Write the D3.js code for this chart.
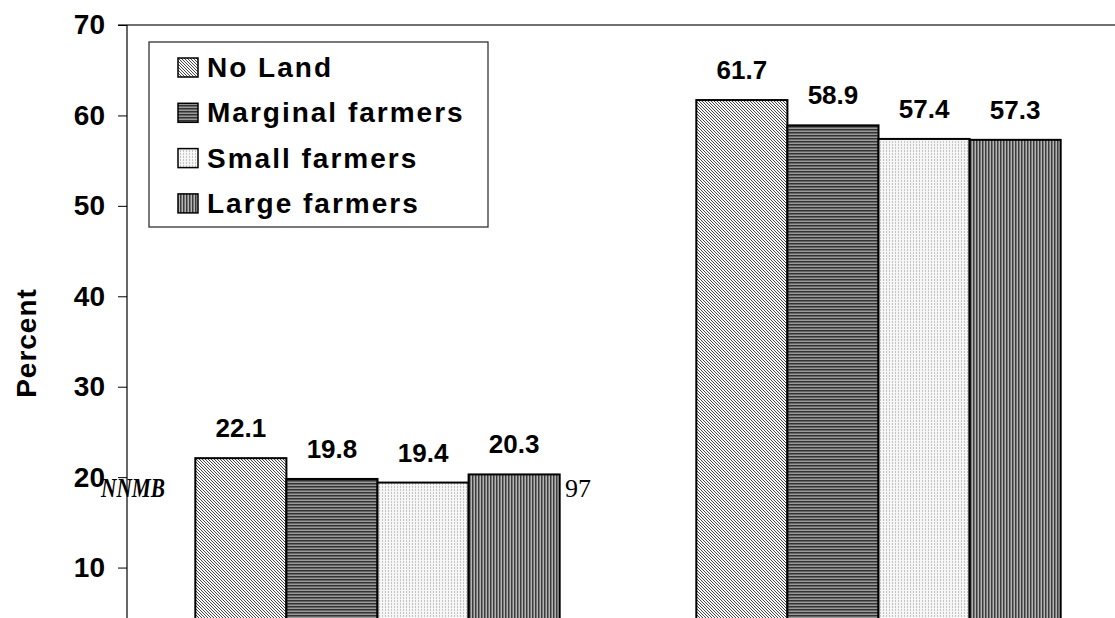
<!DOCTYPE html>
<html>
<head>
<meta charset="utf-8">
<script src="https://cdn.jsdelivr.net/npm/d3@7"></script>
<style>
  html, body { margin: 0; padding: 0; background: #fff; }
  svg { display: block; }
  text { font-family: "Liberation Sans", Arial, sans-serif; }
</style>
</head>
<body>
<div id="chart"></div>
<script>
// ---- data ----
const categories = ["Group 1", "Group 2"];
const seriesNames = ["No Land", "Marginal farmers", "Small farmers", "Large farmers"];
const noLand = [22.1, 61.7];
const marginal = [19.8, 58.9];
const small = [19.4, 57.4];
const large = [20.3, 57.3];
const yTicks = [10, 20, 30, 40, 50, 60, 70];
const yTitle = "Percent";
const overlayLeft = "NNMB";
const overlayRight = "97";

const seriesValues = [noLand, marginal, small, large];

const W = 1115, H = 618;
const svg = d3.select("#chart").append("svg").attr("width", W).attr("height", H);

// ---- patterns ----
const defs = svg.append("defs");
const patIds = ["p-noland", "p-marginal", "p-small", "p-large"];
{
  // No land: fine diagonal hatch
  const p = defs.append("pattern").attr("id", patIds[0]).attr("patternUnits", "userSpaceOnUse")
    .attr("width", 3).attr("height", 3);
  p.append("rect").attr("width", 3).attr("height", 3).attr("fill", "#fafafa");
  p.append("path").attr("d", "M-1,-1 L4,4 M2,-1 L4,1 M-1,2 L1,4")
    .attr("stroke", "#333").attr("stroke-width", 0.9);
}
{
  // Marginal: dark horizontal stripes
  const p = defs.append("pattern").attr("id", patIds[1]).attr("patternUnits", "userSpaceOnUse")
    .attr("width", 3).attr("height", 3);
  p.append("rect").attr("width", 3).attr("height", 3).attr("fill", "#9a9a9a");
  p.append("rect").attr("y", 0).attr("width", 3).attr("height", 1.5).attr("fill", "#333");
}
{
  // Small: very light dotted vertical
  const p = defs.append("pattern").attr("id", patIds[2]).attr("patternUnits", "userSpaceOnUse")
    .attr("width", 3).attr("height", 3);
  p.append("rect").attr("width", 3).attr("height", 3).attr("fill", "#f6f6f6");
  p.append("rect").attr("x", 0).attr("width", 1).attr("height", 2).attr("fill", "#c4c4c4");
}
{
  // Large: dark vertical stripes
  const p = defs.append("pattern").attr("id", patIds[3]).attr("patternUnits", "userSpaceOnUse")
    .attr("width", 3).attr("height", 3);
  p.append("rect").attr("width", 3).attr("height", 3).attr("fill", "#b4b4b4");
  p.append("rect").attr("x", 0).attr("width", 1.5).attr("height", 3).attr("fill", "#3c3c3c");
}

// ---- scales ----
const plotLeft = 127, plotRight = 1129;
const y = d3.scaleLinear().domain([0, 70]).range([658, 25]);
const x0 = d3.scaleBand().domain(categories).range([plotLeft, plotRight]).padding(0);
const x1 = d3.scaleBand().domain(seriesNames).range([0, x0.bandwidth()])
  .paddingInner(0).paddingOuter(0.75);

// ---- plot border (top) ----
svg.append("line").attr("x1", 118).attr("x2", W).attr("y1", y(70)).attr("y2", y(70))
  .attr("stroke", "#707070").attr("stroke-width", 2);

// ---- y axis ----
const yAxis = svg.append("g").attr("transform", `translate(${plotLeft},0)`)
  .call(d3.axisLeft(y).tickValues(yTicks).tickSize(9).tickPadding(13).tickFormat(d3.format("d")));
yAxis.select(".domain").remove();
yAxis.selectAll(".tick line").attr("stroke", "#000").attr("stroke-width", 1);
yAxis.selectAll(".tick text")
  .attr("font-family", "'Liberation Sans', Arial, sans-serif")
  .attr("font-size", 28).attr("font-weight", "bold").attr("fill", "#000");
svg.append("line").attr("x1", plotLeft).attr("x2", plotLeft).attr("y1", y(70)).attr("y2", H)
  .attr("stroke", "#000").attr("stroke-width", 1.2);

svg.append("text").attr("transform", `translate(36,${343}) rotate(-90)`)
  .attr("text-anchor", "middle").attr("font-size", 28).attr("font-weight", "bold")
  .attr("letter-spacing", 1)
  .text(yTitle);

// ---- bars ----
const groups = svg.append("g").selectAll("g").data(categories).join("g")
  .attr("transform", d => `translate(${x0(d)},0)`);

groups.each(function(cat, ci) {
  const g = d3.select(this);
  const rows = seriesNames.map((s, si) => ({ s, si, v: seriesValues[si][ci] }));
  g.selectAll("rect").data(rows).join("rect")
    .attr("x", d => x1(d.s))
    .attr("y", d => y(d.v))
    .attr("width", x1.bandwidth())
    .attr("height", d => y(0) - y(d.v))
    .attr("fill", d => `url(#${patIds[d.si]})`)
    .attr("stroke", "#000").attr("stroke-width", 2);
  g.selectAll("text.val").data(rows).join("text").attr("class", "val")
    .attr("x", d => x1(d.s) + x1.bandwidth() / 2)
    .attr("y", d => y(d.v) - 21)
    .attr("text-anchor", "middle")
    .attr("font-size", 26).attr("font-weight", "bold")
    .text(d => d.v.toFixed(1));
});

// ---- legend ----
const lg = svg.append("g");
lg.append("rect").attr("x", 149).attr("y", 42).attr("width", 339).attr("height", 185)
  .attr("fill", "#fff").attr("stroke", "#333").attr("stroke-width", 1.3);
seriesNames.forEach((s, i) => {
  const by = 77 + i * 45.3;
  lg.append("rect").attr("x", 178).attr("y", by - 19).attr("width", 20).attr("height", 19)
    .attr("fill", `url(#${patIds[i]})`).attr("stroke", "#000").attr("stroke-width", 1.5);
  lg.append("text").attr("x", 207).attr("y", by)
    .attr("font-size", 28).attr("font-weight", "bold").attr("letter-spacing", 2)
    .text(s);
});

// ---- overlay texts ----
svg.append("text").attr("x", 101).attr("y", 497)
  .style("font-family", "'Liberation Serif', 'Times New Roman', serif")
  .attr("font-size", 27).attr("font-weight", "bold").attr("font-style", "italic")
  .attr("textLength", 64).attr("lengthAdjust", "spacingAndGlyphs")
  .text(overlayLeft);
svg.append("text").attr("x", 565).attr("y", 497)
  .style("font-family", "'Liberation Serif', 'Times New Roman', serif")
  .attr("font-size", 26)
  .text(overlayRight);
</script>
</body>
</html>
